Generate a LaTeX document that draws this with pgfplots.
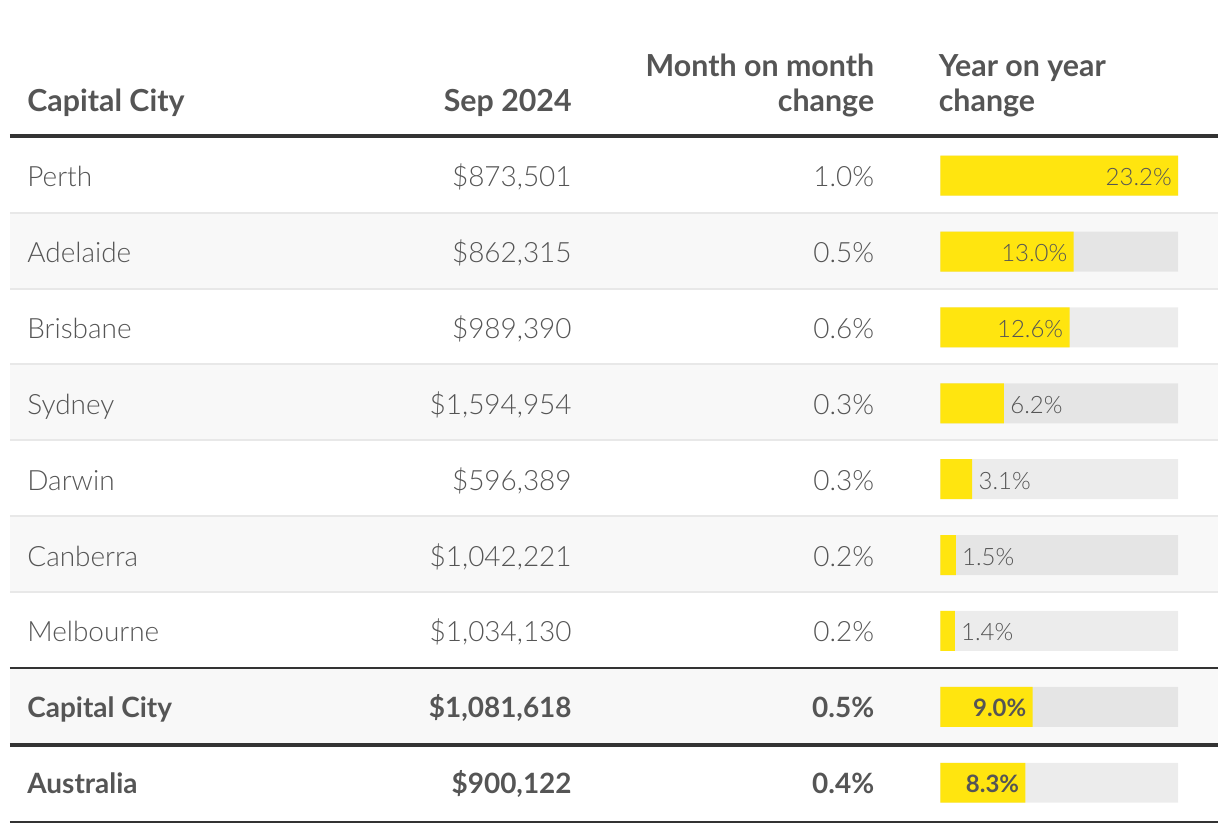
\documentclass[border=0pt]{standalone}
\usepackage{fontspec}
\setmainfont{Lato}[UprightFont=* Light, BoldFont=* Bold]
\usepackage{pgfplots}
\pgfplotsset{compat=1.18}
\definecolor{txt}{HTML}{555555}
\definecolor{rule}{HTML}{333333}
\definecolor{sep}{HTML}{E8E8E8}
\definecolor{stripe}{HTML}{F8F8F8}
\definecolor{ybar}{HTML}{FFE50F}
\begin{document}
\begin{tikzpicture}
\pgfplotsset{px/.style={xmin=0,xmax=1220,ymin=0,ymax=834,y dir=reverse,
  scale only axis,width=610pt,height=417pt,axis lines=none,xtick=\empty,ytick=\empty,clip=false}}
\begin{axis}[px, at={(0,0)}, anchor=south west]
\path (axis cs:0,0) rectangle (axis cs:1220,834);
% stripes
\fill[stripe] (axis cs:10,214) rectangle (axis cs:1220,289);
\fill[stripe] (axis cs:10,366) rectangle (axis cs:1220,441);
\fill[stripe] (axis cs:10,518) rectangle (axis cs:1220,593);
\fill[stripe] (axis cs:10,670) rectangle (axis cs:1220,745);
% separators
\draw[sep,line width=1pt] (axis cs:10,213) -- (axis cs:1220,213);
\draw[sep,line width=1pt] (axis cs:10,289) -- (axis cs:1220,289);
\draw[sep,line width=1pt] (axis cs:10,365) -- (axis cs:1220,365);
\draw[sep,line width=1pt] (axis cs:10,441) -- (axis cs:1220,441);
\draw[sep,line width=1pt] (axis cs:10,517) -- (axis cs:1220,517);
\draw[sep,line width=1pt] (axis cs:10,593) -- (axis cs:1220,593);
\draw[rule,line width=2pt] (axis cs:10,136) -- (axis cs:1220,136);
\draw[rule,line width=1pt] (axis cs:10,669) -- (axis cs:1220,669);
\draw[rule,line width=2pt] (axis cs:10,746) -- (axis cs:1220,746);
\draw[rule,line width=1pt] (axis cs:10,823) -- (axis cs:1220,823);
% headers
\begin{scope}[every node/.style={text=txt,inner sep=0pt,font=\fontsize{15.2pt}{17pt}\selectfont\bfseries}]
\node[anchor=base west] at (axis cs:27,112) {Capital City};
\node[anchor=base east] at (axis cs:573,112) {Sep 2024};
\node[anchor=base east] at (axis cs:876,77) {Month on month};
\node[anchor=base east] at (axis cs:876,112) {change};
\node[anchor=base west] at (axis cs:940,77) {Year on year};
\node[anchor=base west] at (axis cs:940,112) {change};
\end{scope}
\begin{scope}[every node/.style={text=txt,inner sep=0pt,font=\fontsize{14pt}{16pt}\selectfont\bfseries}]
\node[anchor=base west] at (axis cs:27,719) {Capital City};
\node[anchor=base east] at (axis cs:573,719) {\$1,081,618};
\node[anchor=base east] at (axis cs:876,719) {0.5\%};
\node[anchor=base west] at (axis cs:27,795) {Australia};
\node[anchor=base east] at (axis cs:573,795) {\$900,122};
\node[anchor=base east] at (axis cs:876,795) {0.4\%};
\end{scope}
% body
\begin{scope}[every node/.style={text=txt,inner sep=0pt,font=\fontsize{14pt}{16pt}\selectfont}]
\node[anchor=base west] at (axis cs:27,187) {Perth};
\node[anchor=base east] at (axis cs:573,187) {\$873,501};
\node[anchor=base east] at (axis cs:876,187) {1.0\%};
\node[anchor=base west] at (axis cs:27,263) {Adelaide};
\node[anchor=base east] at (axis cs:573,263) {\$862,315};
\node[anchor=base east] at (axis cs:876,263) {0.5\%};
\node[anchor=base west] at (axis cs:27,339) {Brisbane};
\node[anchor=base east] at (axis cs:573,339) {\$989,390};
\node[anchor=base east] at (axis cs:876,339) {0.6\%};
\node[anchor=base west] at (axis cs:27,415) {Sydney};
\node[anchor=base east] at (axis cs:573,415) {\$1,594,954};
\node[anchor=base east] at (axis cs:876,415) {0.3\%};
\node[anchor=base west] at (axis cs:27,491) {Darwin};
\node[anchor=base east] at (axis cs:573,491) {\$596,389};
\node[anchor=base east] at (axis cs:876,491) {0.3\%};
\node[anchor=base west] at (axis cs:27,567) {Canberra};
\node[anchor=base east] at (axis cs:573,567) {\$1,042,221};
\node[anchor=base east] at (axis cs:876,567) {0.2\%};
\node[anchor=base west] at (axis cs:27,643) {Melbourne};
\node[anchor=base east] at (axis cs:573,643) {\$1,034,130};
\node[anchor=base east] at (axis cs:876,643) {0.2\%};
\end{scope}
\end{axis}
\begin{axis}[px, xmin=0, xmax=23.2, width=119pt, at={(471pt,0)}, anchor=south west]
\addplot[xbar, bar width=40, fill=black, fill opacity=0.075, draw=none] coordinates {
(23.2,176) (23.2,252) (23.2,328) (23.2,404) (23.2,480) (23.2,556) (23.2,632) (23.2,708) (23.2,784)};
\addplot[xbar, bar width=40, fill=ybar, draw=none] coordinates {
(23.2,176) (13.0,252) (12.6,328) (6.2,404) (3.1,480) (1.5,556) (1.4,632) (9.0,708) (8.3,784)};
\begin{scope}[every node/.style={text=txt,inner sep=0pt,font=\fontsize{12pt}{14pt}\selectfont}]
\node[anchor=base east,xshift=-3pt] at (axis cs:23.2,186) {23.2\%};
\node[anchor=base east,xshift=-3pt] at (axis cs:13.0,262) {13.0\%};
\node[anchor=base east,xshift=-3pt] at (axis cs:12.6,338) {12.6\%};
\node[anchor=base west,xshift=3pt] at (axis cs:6.2,414) {6.2\%};
\node[anchor=base west,xshift=3pt] at (axis cs:3.1,490) {3.1\%};
\node[anchor=base west,xshift=3pt] at (axis cs:1.5,566) {1.5\%};
\node[anchor=base west,xshift=3pt] at (axis cs:1.4,642) {1.4\%};
\node[anchor=base east,xshift=-3pt,font=\fontsize{12pt}{14pt}\selectfont\bfseries] at (axis cs:9.0,718) {9.0\%};
\node[anchor=base east,xshift=-3pt,font=\fontsize{12pt}{14pt}\selectfont\bfseries] at (axis cs:8.3,794) {8.3\%};
\end{scope}
\end{axis}
\end{tikzpicture}
\end{document}
